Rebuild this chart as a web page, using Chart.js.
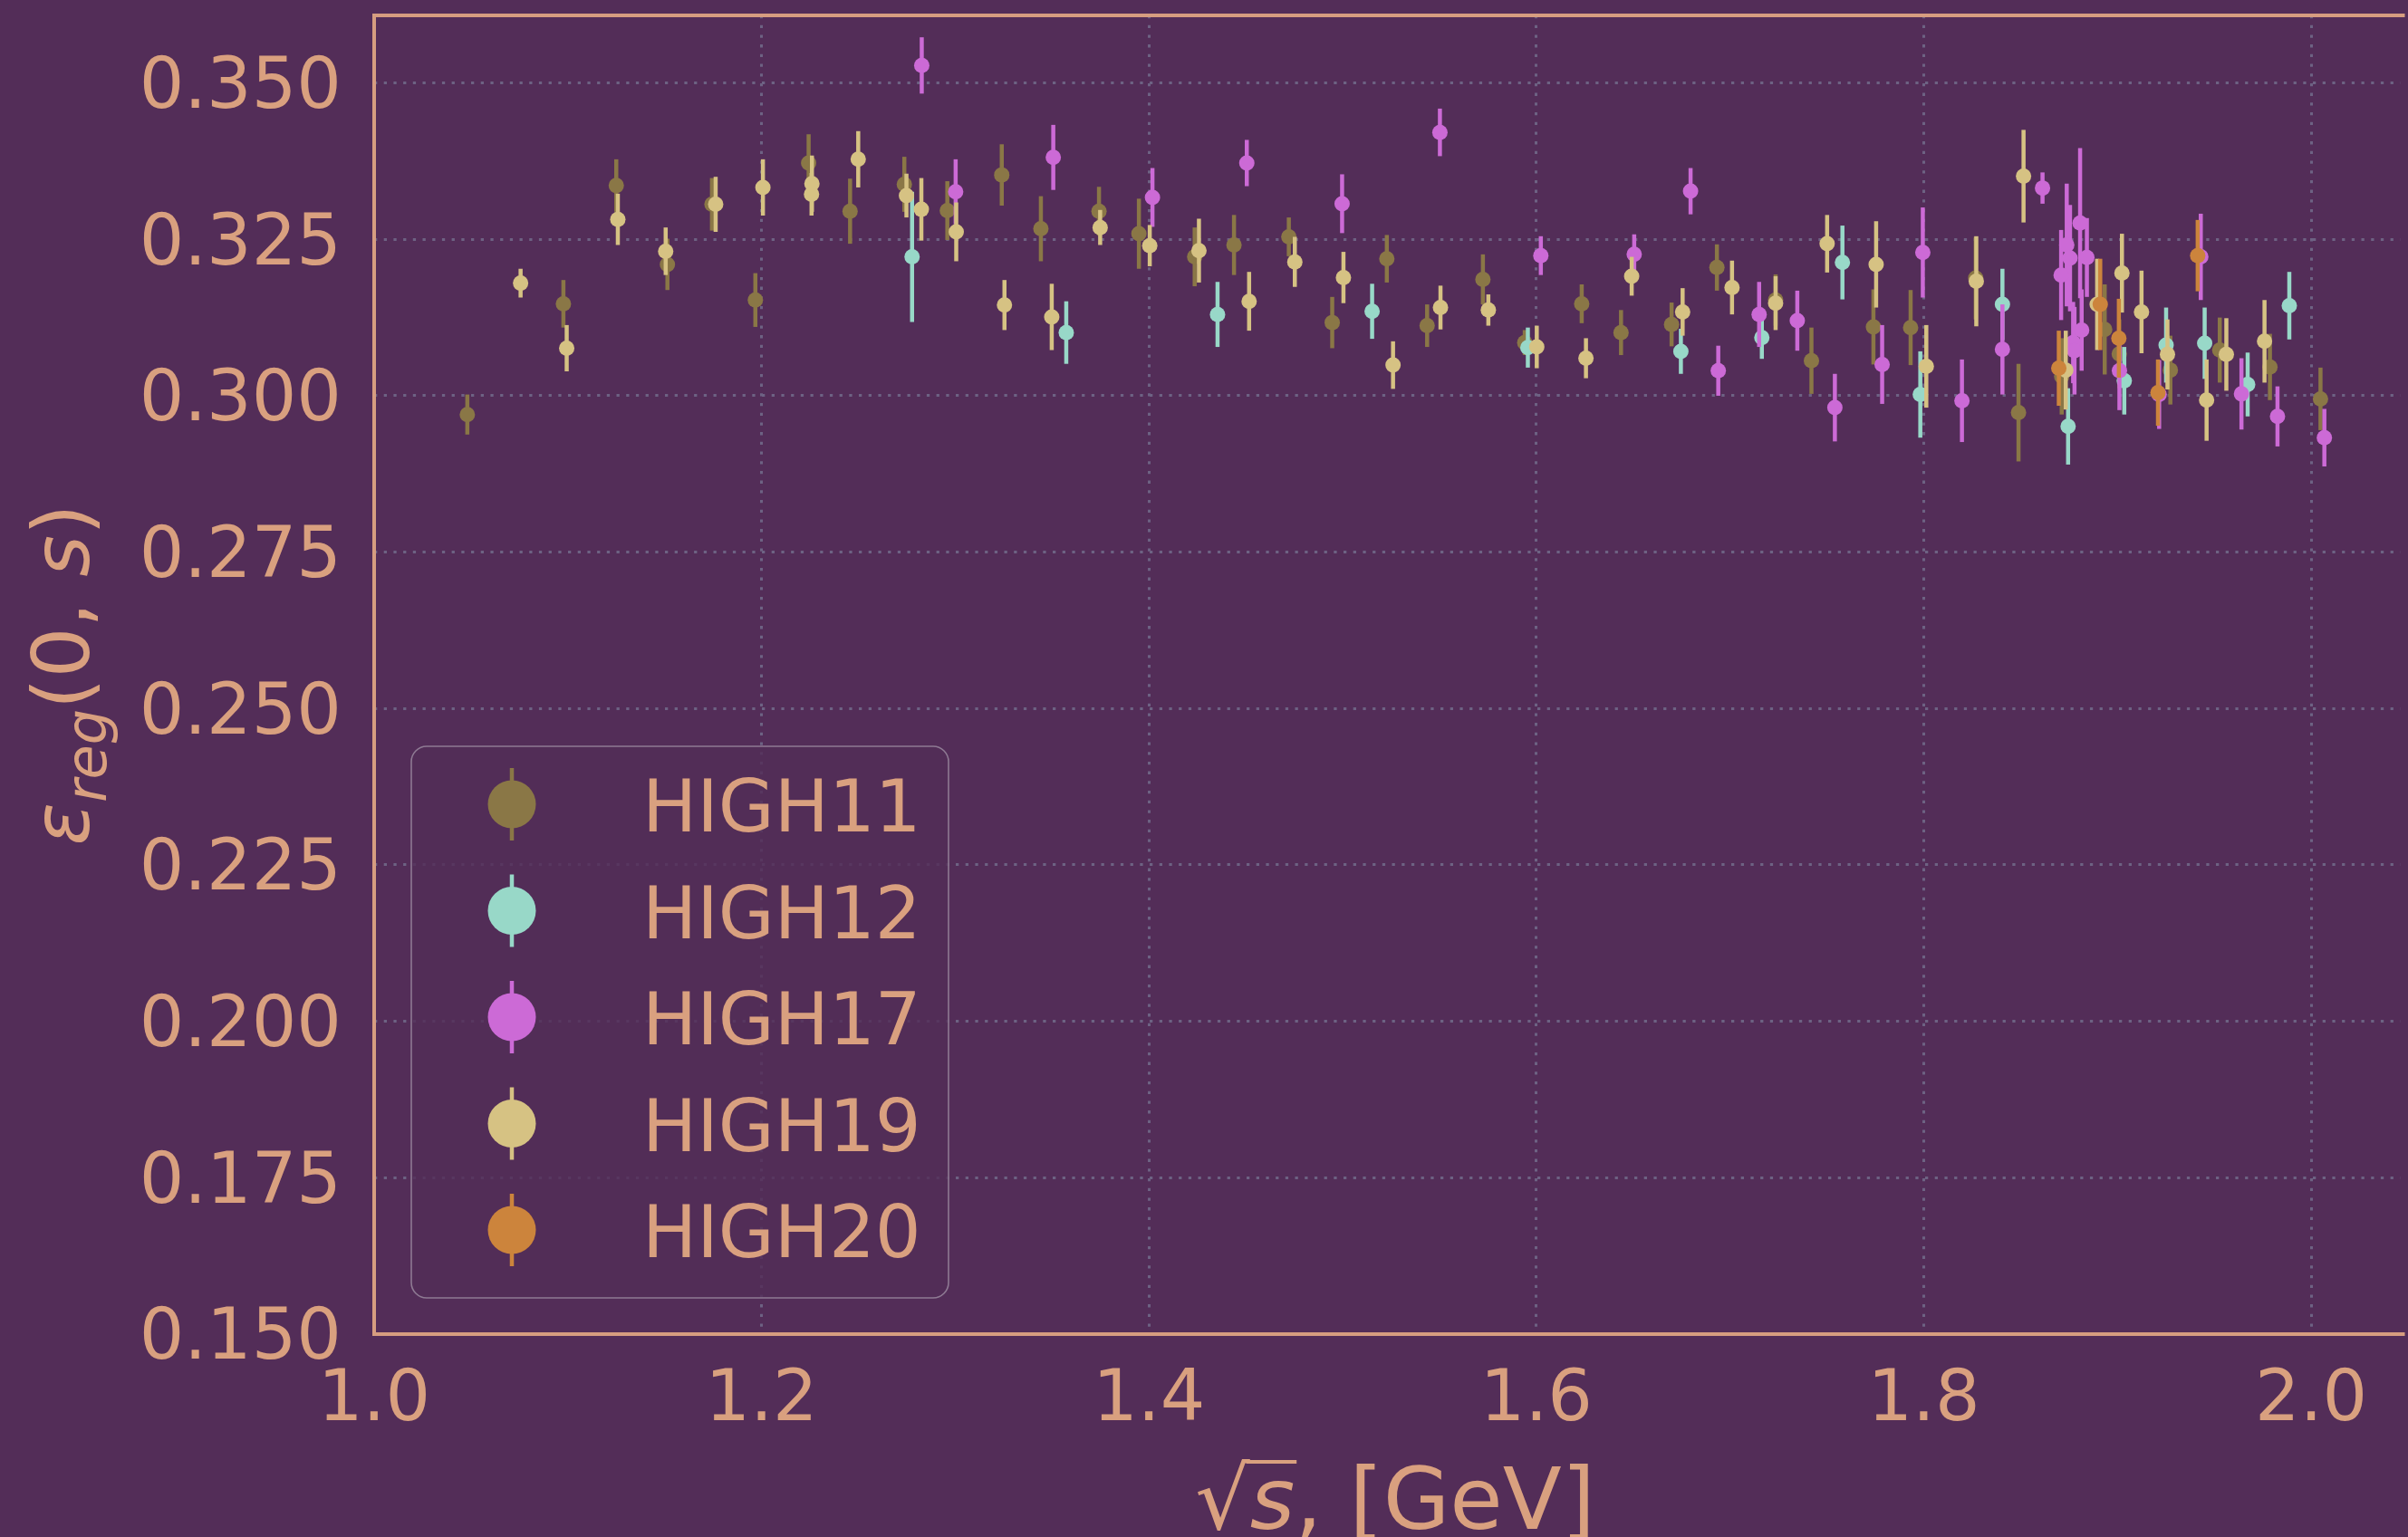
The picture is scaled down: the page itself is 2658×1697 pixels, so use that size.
<!DOCTYPE html>
<html>
<head>
<meta charset="utf-8">
<script src="https://cdn.jsdelivr.net/npm/chart.js@4.4.0/dist/chart.umd.min.js"></script>
<style>
  html, body { margin: 0; padding: 0; background: #532d58; }
  canvas { display: block; }
</style>
</head>
<body>
<canvas id="chart" width="2658" height="1697"></canvas>
<script>
const seriesNames = ["HIGH11", "HIGH12", "HIGH17", "HIGH19", "HIGH20"];
const seriesColors = ["#8a7746", "#98d8c8", "#cc6ad6", "#d6c283", "#cc843c"];

// sqrt(s) in GeV, eps_reg(0,s), and its error
const high11X = [1.0481, 1.0977, 1.1250, 1.1514, 1.1744, 1.1968, 1.2243, 1.2457, 1.2737, 1.2959,
  1.3240, 1.3442, 1.3742, 1.3948, 1.4236, 1.4439, 1.4722, 1.4946, 1.5228, 1.5436,
  1.5724, 1.5940, 1.6234, 1.6437, 1.6698, 1.6932, 1.7235, 1.7420, 1.7740, 1.7932,
  1.8268, 1.8489, 1.8712, 1.8934, 1.9009, 1.9273, 1.9528, 1.9787, 2.0048];
const high11Y = [0.2970, 0.3147, 0.3336, 0.3210, 0.3306, 0.3153, 0.3372, 0.3295, 0.3338, 0.3296,
  0.3353, 0.3267, 0.3295, 0.3259, 0.3222, 0.3241, 0.3254, 0.3117, 0.3219, 0.3112,
  0.3186, 0.3085, 0.3147, 0.3101, 0.3114, 0.3205, 0.3153, 0.3056, 0.3110, 0.3109,
  0.3188, 0.2973, 0.3031, 0.3106, 0.3067, 0.3041, 0.3073, 0.3046, 0.2995];
const high11Err = [0.0032, 0.0038, 0.0042, 0.0041, 0.0042, 0.0043, 0.0046, 0.0052, 0.0044, 0.0047,
  0.0049, 0.0052, 0.0039, 0.0056, 0.0047, 0.0048, 0.0031, 0.0041, 0.0038, 0.0034,
  0.0040, 0.0020, 0.0031, 0.0036, 0.0035, 0.0037, 0.0041, 0.0053, 0.0060, 0.0060,
  0.0066, 0.0078, 0.0061, 0.0072, 0.0055, 0.0055, 0.0052, 0.0053, 0.0050];

const high12X = [1.2777, 1.3573, 1.4354, 1.5152, 1.5956, 1.6746, 1.7164, 1.7580, 1.7982, 1.8406,
  1.8745, 1.9035, 1.9251, 1.9450, 1.9672, 1.9887];
const high12Y = [0.3222, 0.3101, 0.3130, 0.3135, 0.3077, 0.3071, 0.3093, 0.3213, 0.3002, 0.3146,
  0.2951, 0.3024, 0.3081, 0.3084, 0.3018, 0.3144];
const high12Err = [0.0104, 0.0050, 0.0052, 0.0044, 0.0032, 0.0036, 0.0034, 0.0059, 0.0069, 0.0057,
  0.0061, 0.0054, 0.0060, 0.0057, 0.0051, 0.0054];

const high17X = [1.2827, 1.3002, 1.3506, 1.4018, 1.4505, 1.4997, 1.5502, 1.6023, 1.6505, 1.6796,
  1.6939, 1.7150, 1.7347, 1.7541, 1.7785, 1.7995, 1.8197, 1.8406, 1.8613, 1.8709,
  1.8738, 1.8755, 1.8771, 1.8778, 1.8807, 1.8815, 1.8842, 1.9010, 1.9215, 1.9430,
  1.9640, 1.9826, 2.0068];
const high17Y = [0.3528, 0.3326, 0.3381, 0.3317, 0.3372, 0.3307, 0.3421, 0.3224, 0.3226, 0.3327,
  0.3040, 0.3130, 0.3120, 0.2981, 0.3050, 0.3229, 0.2992, 0.3074, 0.3332, 0.3193,
  0.3241, 0.3220, 0.3085, 0.3072, 0.3276, 0.3105, 0.3221, 0.3040, 0.3002, 0.3222,
  0.3003, 0.2967, 0.2933];
const high17Err = [0.0045, 0.0052, 0.0052, 0.0047, 0.0037, 0.0047, 0.0038, 0.0031, 0.0032, 0.0037,
  0.0040, 0.0052, 0.0048, 0.0054, 0.0063, 0.0072, 0.0066, 0.0072, 0.0025, 0.0072,
  0.0098, 0.0085, 0.0065, 0.0070, 0.0120, 0.0065, 0.0063, 0.0063, 0.0055, 0.0069,
  0.0057, 0.0048, 0.0046];

const high19X = [1.0756, 1.0994, 1.1258, 1.1505, 1.1763, 1.2007, 1.2260, 1.2258, 1.2499, 1.2748,
  1.2825, 1.3005, 1.3254, 1.3498, 1.3748, 1.4004, 1.4258, 1.4517, 1.4753, 1.5004,
  1.5260, 1.5505, 1.5752, 1.6002, 1.6256, 1.6492, 1.6755, 1.7010, 1.7235, 1.7501,
  1.7754, 1.8013, 1.8271, 1.8515, 1.8733, 1.8895, 1.9023, 1.9124, 1.9258, 1.9460,
  1.9562, 1.9759];
const high19Y = [0.3180, 0.3076, 0.3282, 0.3231, 0.3306, 0.3333, 0.3339, 0.3322, 0.3378, 0.3320,
  0.3298, 0.3262, 0.3145, 0.3126, 0.3269, 0.3240, 0.3232, 0.3151, 0.3214, 0.3189,
  0.3049, 0.3141, 0.3137, 0.3078, 0.3060, 0.3191, 0.3134, 0.3173, 0.3148, 0.3243,
  0.3210, 0.3047, 0.3183, 0.3351, 0.3041, 0.3146, 0.3196, 0.3134, 0.3066, 0.2993,
  0.3066, 0.3087];
const high19Err = [0.0023, 0.0037, 0.0041, 0.0038, 0.0044, 0.0045, 0.0045, 0.0034, 0.0045, 0.0035,
  0.0050, 0.0047, 0.0040, 0.0053, 0.0028, 0.0033, 0.0051, 0.0047, 0.0040, 0.0041,
  0.0038, 0.0035, 0.0025, 0.0034, 0.0032, 0.0031, 0.0038, 0.0043, 0.0043, 0.0046,
  0.0069, 0.0066, 0.0072, 0.0074, 0.0063, 0.0073, 0.0063, 0.0066, 0.0056, 0.0065,
  0.0058, 0.0066];

const high20X = [1.8697, 1.8911, 1.9007, 1.9209, 1.9414];
const high20Y = [0.3044, 0.3146, 0.3092, 0.3005, 0.3224];
const high20Err = [0.0060, 0.0073, 0.0063, 0.0053, 0.0057];

const xTicks = [1.0, 1.2, 1.4, 1.6, 1.8, 2.0];
const yTicks = [0.150, 0.175, 0.200, 0.225, 0.250, 0.275, 0.300, 0.325, 0.350];

const TEXT = "#d9a07f";
const SPINE = "#d69d80";
const GRID = "#6d6283";
const FONT = "'DejaVu Sans', sans-serif";

const seriesX = [high11X, high12X, high17X, high19X, high20X];
const seriesY = [high11Y, high12Y, high17Y, high19Y, high20Y];
const seriesErr = [high11Err, high12Err, high17Err, high19Err, high20Err];

const datasets = seriesNames.map((name, i) => ({
  label: name,
  data: seriesX[i].map((x, j) => ({ x: x, y: seriesY[i][j] })),
  errors: seriesErr[i],
  backgroundColor: seriesColors[i],
  borderWidth: 0,
  pointRadius: 8.5,
  // later series on top, like matplotlib
  order: seriesNames.length - i,
}));

const errorBars = {
  id: "errorBars",
  beforeDatasetDraw(chart, args) {
    const ds = chart.data.datasets[args.index];
    const xs = chart.scales.x, ys = chart.scales.y;
    const ctx = chart.ctx;
    ctx.save();
    ctx.strokeStyle = ds.backgroundColor;
    ctx.lineWidth = 4.5;
    ds.data.forEach((p, j) => {
      const px = xs.getPixelForValue(p.x);
      ctx.beginPath();
      ctx.moveTo(px, ys.getPixelForValue(p.y - ds.errors[j]));
      ctx.lineTo(px, ys.getPixelForValue(p.y + ds.errors[j]));
      ctx.stroke();
    });
    ctx.restore();
  },
};

const spines = {
  id: "spines",
  afterDatasetsDraw(chart) {
    const { ctx, chartArea: a } = chart;
    ctx.save();
    ctx.strokeStyle = SPINE;
    ctx.lineWidth = 4;
    ctx.beginPath();
    ctx.moveTo(a.right + 5, a.top);
    ctx.lineTo(a.left, a.top);
    ctx.lineTo(a.left, a.bottom);
    ctx.lineTo(a.right + 5, a.bottom);
    ctx.stroke();
    ctx.restore();
  },
};

function roundRect(ctx, x, y, w, h, r) {
  ctx.beginPath();
  ctx.moveTo(x + r, y);
  ctx.arcTo(x + w, y, x + w, y + h, r);
  ctx.arcTo(x + w, y + h, x, y + h, r);
  ctx.arcTo(x, y + h, x, y, r);
  ctx.arcTo(x, y, x + w, y, r);
  ctx.closePath();
}

const labelsAndLegend = {
  id: "labelsAndLegend",
  afterDraw(chart) {
    const { ctx, chartArea: a } = chart;
    ctx.save();
    ctx.fillStyle = TEXT;
    ctx.textBaseline = "alphabetic";

    // y title: eps_reg(0, s)
    const yParts = [
      { t: "\u03b5", f: "italic 88px " + FONT, dy: 0 },
      { t: "reg", f: "italic 62px " + FONT, dy: 19 },
      { t: "(0, ", f: "88px " + FONT, dy: 0 },
      { t: "s", f: "italic 88px " + FONT, dy: 0 },
      { t: ")", f: "88px " + FONT, dy: 0 },
    ];
    let total = 0;
    yParts.forEach(p => { ctx.font = p.f; p.w = ctx.measureText(p.t).width; total += p.w; });
    ctx.save();
    ctx.translate(98, (a.top + a.bottom) / 2);
    ctx.rotate(-Math.PI / 2);
    let cx = -total / 2;
    yParts.forEach(p => { ctx.font = p.f; ctx.fillText(p.t, cx, p.dy); cx += p.w; });
    ctx.restore();

    // x title: sqrt(s), [GeV]
    const xParts = [
      { t: "\u221a", f: "95px " + FONT },
      { t: "s", f: "italic 95px " + FONT, bar: true },
      { t: ", [GeV]", f: "95px " + FONT },
    ];
    total = 0;
    xParts.forEach(p => { ctx.font = p.f; p.w = ctx.measureText(p.t).width; total += p.w; });
    const base = 1688;
    cx = 1540 - total / 2;
    xParts.forEach(p => {
      ctx.font = p.f;
      ctx.fillText(p.t, cx, base);
      if (p.bar) ctx.fillRect(cx - 4, base - 0.8 * 95, p.w + 6, 4);
      cx += p.w;
    });

    // legend
    const lx = 454, ly = 824, lw = 593, lh = 609;
    ctx.fillStyle = "rgba(83,45,88,0.8)";
    roundRect(ctx, lx, ly, lw, lh, 17);
    ctx.fill();
    ctx.strokeStyle = "#8e7a93";
    ctx.lineWidth = 1.6;
    ctx.stroke();
    seriesNames.forEach((name, i) => {
      const cy = 888 + i * 117.5;
      ctx.strokeStyle = seriesColors[i];
      ctx.fillStyle = seriesColors[i];
      ctx.lineWidth = 4.5;
      ctx.beginPath();
      ctx.moveTo(565, cy - 40);
      ctx.lineTo(565, cy + 40);
      ctx.stroke();
      ctx.beginPath();
      ctx.arc(565, cy, 26.5, 0, Math.PI * 2);
      ctx.fill();
      ctx.fillStyle = TEXT;
      ctx.font = "80px " + FONT;
      ctx.fillText(name, 709, cy + 30);
    });
    ctx.restore();
  },
};

new Chart(document.getElementById("chart"), {
  type: "scatter",
  data: { datasets: datasets },
  options: {
    responsive: false,
    animation: false,
    events: [],
    layout: { padding: { top: 17, left: 0, right: 0, bottom: 0 } },
    plugins: {
      legend: { display: false },
      tooltip: { enabled: false },
    },
    scales: {
      x: {
        type: "linear",
        min: 1.0,
        max: 2.046,
        afterBuildTicks: s => { s.ticks = xTicks.map(v => ({ value: v })); },
        afterFit: s => { s.height = 224; s.paddingLeft = 0; s.paddingRight = 0; },
        grid: { color: GRID, lineWidth: 3, drawTicks: false },
        border: { display: false, dash: [3.3, 7.4] },
        ticks: {
          color: TEXT,
          font: { family: FONT, size: 78 },
          padding: 28,
          maxRotation: 0,
          callback: v => Number(v).toFixed(1),
        },
      },
      y: {
        type: "linear",
        min: 0.150,
        max: 0.3608,
        afterBuildTicks: s => { s.ticks = yTicks.map(v => ({ value: v })); },
        afterFit: s => { s.width = 413; s.paddingTop = 0; s.paddingBottom = 0; },
        grid: { color: GRID, lineWidth: 3, drawTicks: false },
        border: { display: false, dash: [3.3, 7.4] },
        ticks: {
          color: TEXT,
          font: { family: FONT, size: 78 },
          padding: 36,
          labelOffset: 7,
          callback: v => Number(v).toFixed(3),
        },
      },
    },
  },
  plugins: [errorBars, spines, labelsAndLegend],
});
</script>
</body>
</html>
